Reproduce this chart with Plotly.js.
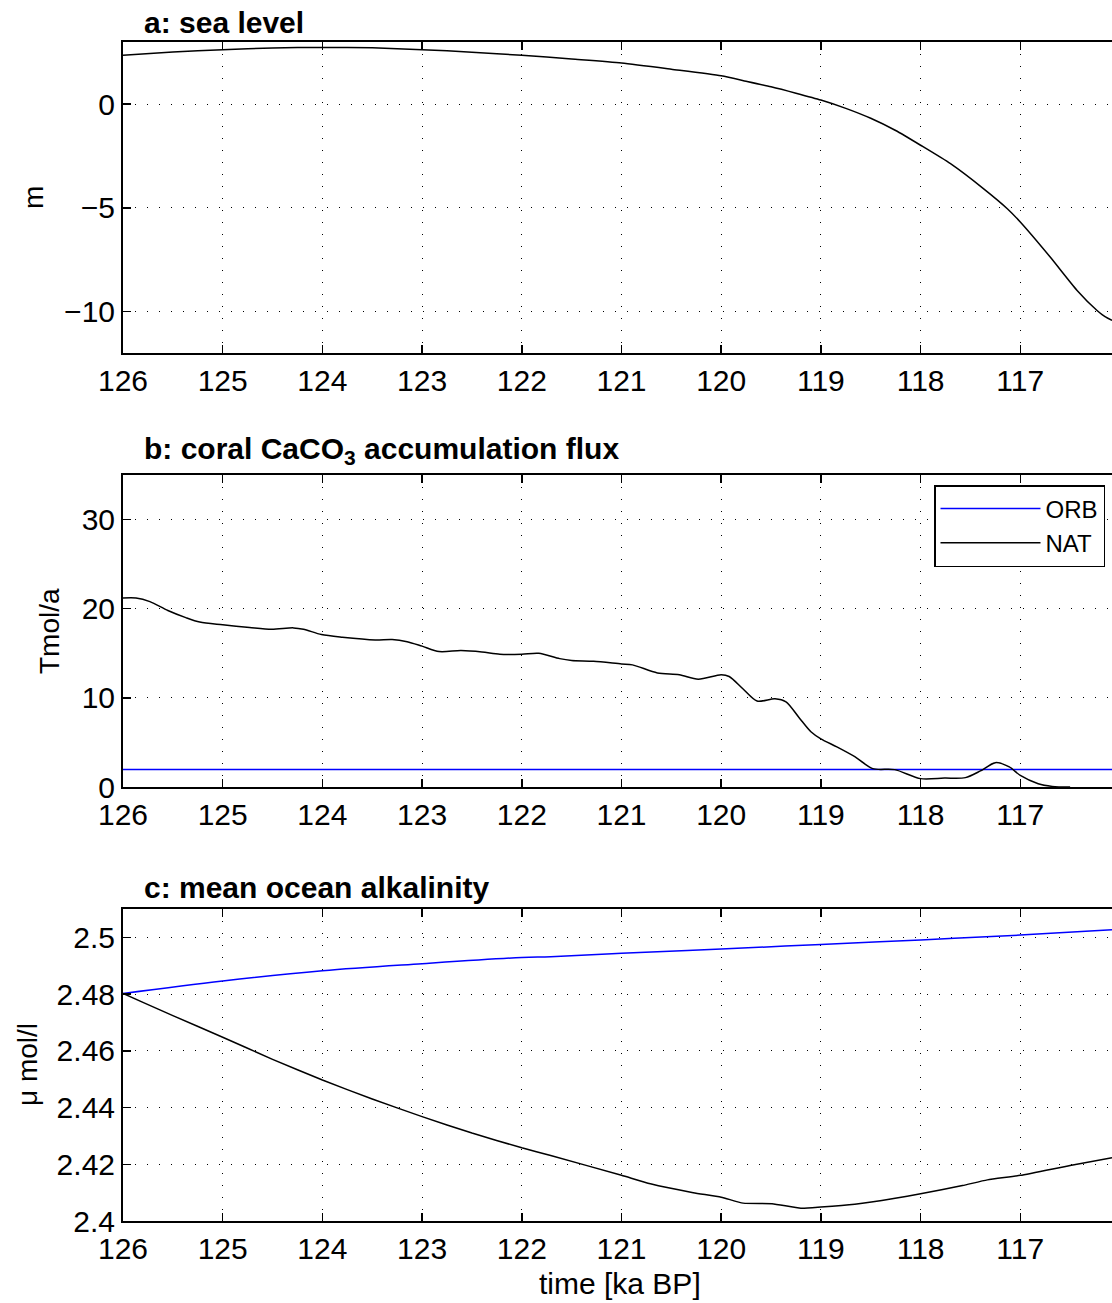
<!DOCTYPE html>
<html><head><meta charset="utf-8">
<script src="https://cdn.plot.ly/plotly-3.0.1.min.js"></script>
<style>html,body{margin:0;padding:0;background:#fff}</style>
</head><body><div id="chart" style="width:1112px;height:1303px"></div>
<script>
// ---- data ----
const timeTicks = [126,125,124,123,122,121,120,119,118,117];

const seaTime  = [126,125.5,125,124.5,124,123.5,123,122.5,122,121.5,121,120.5,120,119.75,119.5,119.25,119,118.75,118.5,118.25,118,117.7,117.37,117.13,117.0,116.7,116.43,116.23,116.15,116.08];
const seaLevel = [2.36,2.52,2.63,2.71,2.74,2.72,2.63,2.51,2.36,2.18,1.99,1.69,1.37,1.11,0.84,0.53,0.20,-0.20,-0.68,-1.27,-1.98,-2.87,-4.07,-5.04,-5.68,-7.37,-8.98,-9.95,-10.25,-10.43];

const fluxTimeNAT = [126,125.87,125.73,125.55,125.37,125.23,125.0,124.73,124.51,124.29,124.19,124.01,123.8,123.47,123.3,123.15,123.0,122.83,122.61,122.4,122.22,122.0,121.83,121.62,121.5,121.28,121.0,120.89,120.64,120.42,120.23,120.0,119.92,119.78,119.64,119.46,119.35,119.22,119.1,119.0,118.84,118.66,118.48,118.26,118.0,117.76,117.55,117.4,117.25,117.11,117.0,116.82,116.68,116.5];
const fluxNAT     = [21.2,21.2,20.8,19.8,19.0,18.5,18.2,17.9,17.7,17.85,17.7,17.1,16.8,16.5,16.55,16.3,15.8,15.2,15.3,15.15,14.9,14.9,15.0,14.4,14.2,14.1,13.8,13.7,12.8,12.6,12.1,12.6,12.4,11.0,9.65,9.9,9.55,7.8,6.2,5.4,4.5,3.4,2.06,1.95,0.94,1.0,1.05,1.8,2.73,2.25,1.3,0.37,0.07,0.0];
const fluxTimeORB = [126,116.08];
const fluxORB     = [1.95,1.95];

const alkTimeORB = [126,125,124,123,122,121.71,121,120,119,118,117,116.08];
const alkORB     = [2.4802,2.4846,2.4882,2.4907,2.4929,2.4932,2.4944,2.4959,2.4975,2.4991,2.5008,2.5027];
const alkTimeNAT = [126,125.8,125.5,125,124.5,124,123.5,123,122.5,122,121.71,121,120.71,120.28,120,119.78,119.49,119.2,119,118.66,118.27,118,117.58,117.33,117,116.5,116.08];
const alkNAT     = [2.4802,2.4771,2.4724,2.4648,2.4570,2.4497,2.4430,2.4368,2.4310,2.4258,2.4231,2.4161,2.4131,2.4100,2.4084,2.4063,2.4061,2.4045,2.4049,2.4059,2.4079,2.4096,2.4125,2.4145,2.4161,2.4196,2.4223];
const alkTicks   = [2.4,2.42,2.44,2.46,2.48,2.5];
const alkLabels  = ['2.4','2.42','2.44','2.46','2.48','2.5'];

// ---- layout ----
const W = 1112, H = 1303;
const FONT = 'Liberation Sans, Arial, Helvetica, sans-serif';
const xl = 123/W;
function py(p){ return 1 - p/H; }

const traces = [
  {x: seaTime, y: seaLevel, xaxis:'x', yaxis:'y', mode:'lines', line:{color:'#000', width:1.5, shape:'spline', smoothing:0.6}, showlegend:false},
  {x: fluxTimeORB, y: fluxORB, xaxis:'x2', yaxis:'y2', mode:'lines', name:'ORB', line:{color:'#0000ff', width:1.5}},
  {x: fluxTimeNAT, y: fluxNAT, xaxis:'x2', yaxis:'y2', mode:'lines', name:'NAT', line:{color:'#000', width:1.5, shape:'spline', smoothing:0.8}},
  {x: alkTimeORB, y: alkORB, xaxis:'x3', yaxis:'y3', mode:'lines', line:{color:'#0000ff', width:1.5, shape:'spline'}, showlegend:false},
  {x: alkTimeNAT, y: alkNAT, xaxis:'x3', yaxis:'y3', mode:'lines', line:{color:'#000', width:1.5, shape:'spline', smoothing:0.5}, showlegend:false}
];

const gridCommon = {showgrid:true, gridcolor:'#000', gridwidth:1, griddash:'1px,11px',
  zeroline:false, showline:true, linecolor:'#000', linewidth:2, ticks:'inside', ticklen:8,
  tickcolor:'#000', tickwidth:1.5, tickfont:{family:FONT, size:30, color:'#000'}, automargin:false};

function xax(anchor){
  return Object.assign({}, gridCommon, {anchor: anchor, domain:[xl, 1], range:[126, 116.08],
    tickmode:'array', tickvals: timeTicks, ticktext: timeTicks.map(String), mirror:'ticks'});
}
function yax(anchor, dom, range, vals, labels){
  return Object.assign({}, gridCommon, {anchor: anchor, domain: dom, range: range,
    tickmode:'array', tickvals: vals, ticktext: labels, mirror:false});
}
function ytitle(text, xpx, ypx){
  return {text: text, xref:'paper', yref:'paper', x: xpx/W, y: py(ypx), xanchor:'center', yanchor:'middle',
    textangle:-90, showarrow:false, font:{family:FONT, size:28, color:'#000'}};
}
function ptitle(text, ypx){
  return {text: text, xref:'paper', yref:'paper', x:142/W, y:py(ypx), xanchor:'left', yanchor:'middle',
    showarrow:false, font:{family:FONT, size:30, color:'#000'}};
}

const layout = {
  width: W, height: H, margin:{l:0, r:0, t:0, b:0},
  paper_bgcolor:'#fff', plot_bgcolor:'#fff',
  font:{family:FONT, color:'#000'},
  xaxis:  xax('y'),
  xaxis2: xax('y2'),
  xaxis3: xax('y3'),
  yaxis:  yax('x',  [py(353), py(42)],  [-12, 3], [-10,-5,0], ['−10','−5','0']),
  yaxis2: yax('x2', [py(787), py(475)], [0, 35], [0,10,20,30], ['0','10','20','30']),
  yaxis3: yax('x3', [py(1221), py(909)], [2.4, 2.51], alkTicks, alkLabels),
  legend: {x: 1105/W, y: py(485), xanchor:'right', yanchor:'top', bgcolor:'#fff',
    bordercolor:'#000', borderwidth:1.5, itemwidth:100, tracegroupgap:0,
    font:{family:FONT, size:24, color:'#000'}},
  annotations: [
    ptitle('<b>a: sea level</b>', 22),
    ptitle('<b>b: coral CaCO<sub>3</sub> accumulation flux</b>', 450),
    ptitle('<b>c: mean ocean alkalinity</b>', 887),
    ytitle('m', 33, 198),
    ytitle('Tmol/a', 49, 631),
    ytitle('μ mol/l', 27, 1065),
    {text:'time [ka BP]', xref:'paper', yref:'paper', x:620/W, y:py(1283), xanchor:'center', yanchor:'middle',
      showarrow:false, font:{family:FONT, size:30, color:'#000'}}
  ]
};

Plotly.newPlot('chart', traces, layout, {staticPlot:true, displayModeBar:false});
</script>
</body></html>
